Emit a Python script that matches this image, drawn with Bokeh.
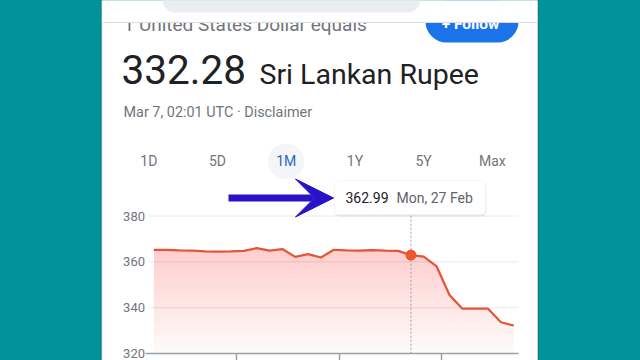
import numpy as np
from datetime import date, timedelta
from bokeh.plotting import figure
from bokeh.models import (Range1d, LinearAxis, FixedTicker, BoxAnnotation,
                          Label, Arrow, VeeHead, GlobalInlineStyleSheet)
from bokeh.embed import file_html
from bokeh.resources import INLINE

# ---------------- data ----------------
start_date = date(2023, 2, 7)
day_offsets = list(range(29))
rates = [365.2, 365.2, 365.0, 364.9, 364.6, 364.5, 364.6, 364.8, 366.0, 364.9,
         365.6, 362.2, 363.4, 361.9, 365.3, 365.0, 364.9, 365.1, 364.9, 364.8,
         362.99, 362.3, 358.0, 345.6, 339.6, 339.6, 339.6, 333.7, 332.28]
y_ticks = [320, 340, 360, 380]
x_ticks = [6.45, 14.45, 22.4]
hover_index = 20
tabs = ["1D", "5D", "1M", "1Y", "5Y", "Max"]
active_tab = "1M"
headline_rate = 332.28
title_from = "1 United States Dollar equals"
title_to = "Sri Lankan Rupee"
stamp = "Mar 7, 02:01 UTC · Disclaimer"

FONT = "Roboto"
TEAL = "#01939a"
RED = "#e2553a"
GREY_TXT = "#70757a"

p = figure(width=640, height=360,
           x_range=Range1d(-11.923, 37.855), y_range=Range1d(317.04, 473.90),
           x_axis_type=None, y_axis_type=None,
           toolbar_location=None, output_backend="svg", min_border=0)
p.stylesheets = [GlobalInlineStyleSheet(
    css="html, body {margin:0 !important; padding:0; background:%s; overflow:hidden;}" % TEAL)]
p.extra_x_ranges = {"px": Range1d(0, 640)}
p.extra_y_ranges = {"px": Range1d(360, 0)}
p.outline_line_color = None
p.border_fill_color = TEAL
p.background_fill_color = TEAL


def box(l, r, t, b, color, level="annotation", radius=0, line=None, alpha=1.0, lw=1):
    p.add_layout(BoxAnnotation(left=l, right=r, top=t, bottom=b,
                               x_range_name="px", y_range_name="px",
                               fill_color=color, fill_alpha=alpha,
                               line_color=line, line_width=lw, level=level,
                               border_radius=int(radius)))


def label(x, baseline, text, size, color, align="left", style="normal", level="annotation"):
    # compensate for where the renderer puts the alphabetic baseline
    y = baseline - (0.33 * size + 1.5)
    p.add_layout(Label(x=x, y=y, text=text, x_range_name="px", y_range_name="px",
                       text_font=FONT, text_font_size="%gpx" % size,
                       text_color=color, text_align=align,
                       text_baseline="alphabetic", text_font_style=style,
                       level=level))


# phone panel
box(101, 537.5, -5, 365, "white", level="image", line="#1d3a3f", lw=1.5)

# header texts
label(123, 32, title_from, 19, GREY_TXT)
box(425, 518, 0, 42, "#1a73e8", radius=21)
label(472, 30.5, "+  Follow", 15.5, "white", align="center", style="bold")
label(121, 83.5, f"{headline_rate:.2f}", 40.5, "#202124")
label(259, 84.5, title_to, 28.5, "#202124")
label(123, 118, stamp, 14.4, GREY_TXT)

# covering top bar
box(102, 536.5, -5, 21.5, "white", level="overlay")
box(102, 536.5, 21.5, 22.5, "#dadce0", level="overlay")
box(162, 420, -20, 12, "#ebedef", level="overlay", radius=13)

# tabs
tab_x0, tab_dx = 148.3, 68.7
for i, t in enumerate(tabs):
    cx = tab_x0 + i * tab_dx
    if t == active_tab:
        box(cx - 18, cx + 18, 143.5, 178.5, "#f4f5f6", level="underlay", radius=17)
        label(cx, 166.5, t, 14, "#2a67c4", align="center")
    else:
        label(cx, 166.5, t, 14, GREY_TXT, align="center")

# ---------------- chart ----------------
x = np.array(day_offsets, dtype=float)
y = np.array(rates)

# gradient-ish fill made of stacked translucent layers
p.varea(x=x, y1=y_ticks[0], y2=y, fill_color=RED, fill_alpha=0.03)
for lvl in np.linspace(y_ticks[0], 366, 24)[1:]:
    p.varea(x=x, y1=lvl, y2=np.maximum(y, lvl), fill_color=RED, fill_alpha=0.0125)

# horizontal grid lines, limited to the chart width
grid_y = y_ticks[1:]
p.segment(x0=[-0.41] * len(grid_y), y0=grid_y, x1=[28.37] * len(grid_y), y1=grid_y,
          line_color="#e8eaed", line_width=1, level="underlay")

xaxis = LinearAxis(fixed_location=y_ticks[0], ticker=FixedTicker(ticks=x_ticks),
                   bounds=(-0.64, 28.37), axis_line_color="#9aa0a6",
                   axis_line_width=1.5, major_tick_line_color="#9aa0a6",
                   major_tick_line_width=1.5, major_tick_in=0, major_tick_out=7,
                   minor_tick_line_color=None, major_label_text_color=None)
p.add_layout(xaxis, "below")

yaxis = LinearAxis(fixed_location=-0.45, ticker=FixedTicker(ticks=y_ticks),
                   axis_line_color=None, major_tick_line_color=None,
                   minor_tick_line_color=None, major_tick_in=0, major_tick_out=0,
                   major_label_standoff=3, major_label_text_font=FONT,
                   major_label_text_font_size="13px",
                   major_label_text_color=GREY_TXT)
p.add_layout(yaxis, "left")

hx, hy = x[hover_index], y[hover_index]
p.segment(x0=[hx], y0=[y_ticks[0]], x1=[hx], y1=[y_ticks[-1] + 1],
          line_color="#9aa0a6", line_dash="2 2", line_width=1)
p.line(x, y, line_color=RED, line_width=2.2)
p.scatter(x=[hx], y=[hy], size=11, fill_color="#f0552c", line_color=None)

# tooltip
hover_date = start_date + timedelta(days=int(day_offsets[hover_index]))
box(334, 486, 181, 216, "black", alpha=0.07, radius=5)
box(334, 485, 180, 214, "white", radius=4, line="#e6e6e6")
label(345, 203.3, f"{hy:.2f}", 14, "#202124")
label(396, 203.3, f"{hover_date:%a}, {hover_date.day} {hover_date:%b}", 14, "#5f6368")

# blue arrow
p.add_layout(Arrow(end=VeeHead(size=38, fill_color="#2a12c8", line_color="#2a12c8"),
                   x_start=228, y_start=197.5, x_end=333, y_end=197.5,
                   x_range_name="px", y_range_name="px",
                   line_color="#2a12c8", line_width=7))

open("out.html", "w").write(file_html(p, INLINE))
